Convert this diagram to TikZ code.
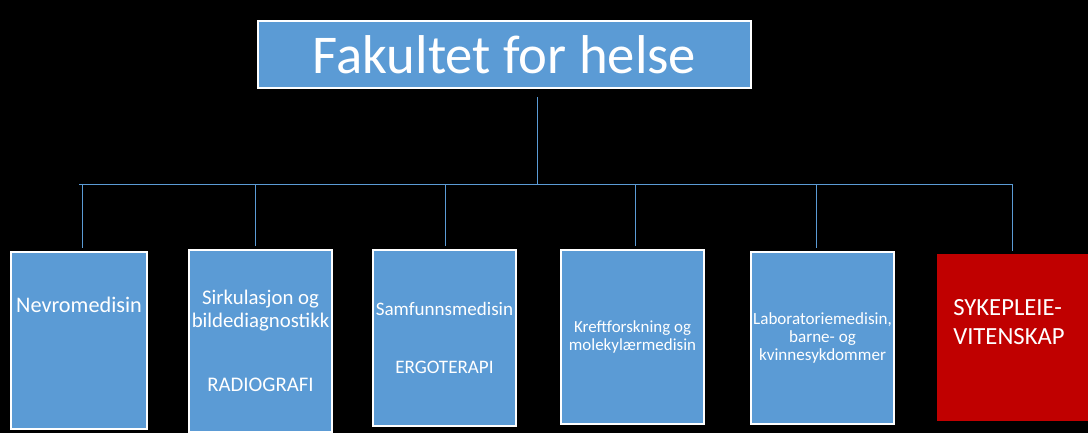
\documentclass[tikz,border=0pt]{standalone}
\usepackage{fontspec}
\setmainfont{Carlito}
\usetikzlibrary{calc,positioning}
\definecolor{unitblue}{HTML}{5B9BD5}
\definecolor{unitred}{HTML}{C00000}

\begin{document}
\begin{tikzpicture}[x=0.75pt, y=-0.75pt,
  unit/.style={draw=white, line width=1.5pt, fill=unitblue, text=white, align=center, inner sep=0pt, minimum width=107.25pt},
  unittxt/.style={text=white, inner sep=0pt},
  link/.style={draw=unitblue, line width=0.75pt}]

  % Background
  \fill[black] (0,0) rectangle (1088,433);

  % Faculty
  \node[unit, minimum width=369.75pt, minimum height=50.25pt, font=\fontsize{41}{44}\selectfont] (fak) at (504.5,54.5) {Fakultet for helse};

  % Departments
  \node[unit, minimum width=102pt, minimum height=132.75pt] (nevro) at (79,340.5) {};
  \node[unittxt, font=\fontsize{16.7}{20}\selectfont] (nevrotxt) at (79,305) {Nevromedisin};
  \node[unit, minimum height=136.5pt, font=\fontsize{15.6}{17.25}\selectfont] (sirk) at (260.5,341) {Sirkulasjon og\\bildediagnostikk\\[30.75pt]RADIOGRAFI};
  \node[unit, minimum height=132pt, font=\fontsize{14.3}{17}\selectfont] (samf) at (444.5,338) {Samfunnsmedisin\\[26.5pt]ERGOTERAPI};
  \node[unit, minimum height=130.5pt, font=\fontsize{12.7}{13.5}\selectfont] (kreft) at (632.5,337) {Kreftforskning og\\molekylærmedisin};
  \node[unit, minimum height=129pt, font=\fontsize{12.8}{13.5}\selectfont] (lab) at (822.5,338) {Laboratoriemedisin,\\barne- og\\kvinnesykdommer};
  \node[fill=unitred, inner sep=0pt, minimum width=113.25pt, minimum height=125.25pt] (syk) at (1012.5,337.5) {};
  \node[unittxt, anchor=west, align=left, font=\fontsize{18.5}{21.75}\selectfont] (syktxt) at (953,322.5) {SYKEPLEIE-\\VITENSKAP};

  % Trunk and bus
  \coordinate (trunk) at (537,97);
  \coordinate (busL) at (79,184);
  \coordinate (busR) at (1012,184);
  \draw[link] (trunk) -- (trunk |- busL);
  \draw[link] (busL) -- (busR);

  % Drops to the departments
  \foreach \b/\dx in {nevro/3, sirk/-5.5, samf/0.5, kreft/2.5, lab/-6.5, syk/-0.5} {
    \path (\b.north) ++(\dx,0) coordinate (top\b);
    \draw[link] (top\b |- busL) -- ($(top\b)+(0,-3)$);
  }

\end{tikzpicture}
\end{document}
